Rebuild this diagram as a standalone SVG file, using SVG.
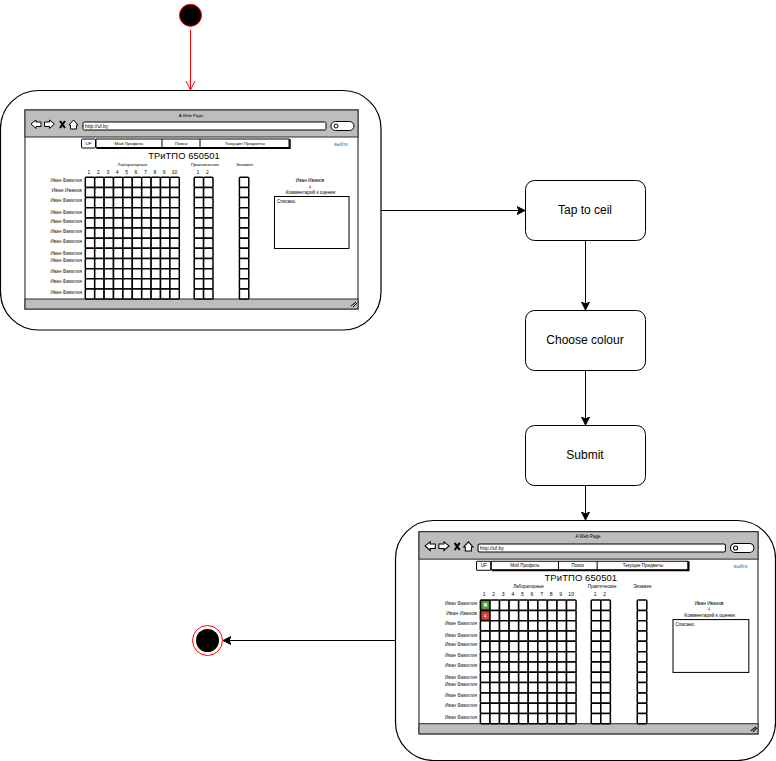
<svg xmlns="http://www.w3.org/2000/svg" width="776" height="761" viewBox="0 0 776 761">
<style>
text{font-family:"Liberation Sans",Arial,sans-serif;fill:#000}
.state{fill:#fff;stroke:#000;stroke-width:1}
.lbl{font-size:12px;text-anchor:middle}
.frame{fill:#fff;stroke:#000;stroke-width:1.2}
.win{fill:#fff;stroke:#3a3a3a;stroke-width:1.2}
.bar{fill:#bdbdbd;stroke:#2a2a2a;stroke-width:1}
.box{fill:#fff;stroke:#000;stroke-width:1}
.cell{fill:#fff;stroke:#000;stroke-width:1.5}
.ico{fill:#fff;stroke:#000;stroke-width:1}
.t4{font-size:4.4px;text-anchor:middle}
.t5{font-size:4.7px;text-anchor:middle}
.n{font-size:5px;text-anchor:middle}
.name{font-size:4.6px;text-anchor:end;fill:#222}
.title{font-size:9.3px;text-anchor:middle;letter-spacing:.1px}
.conn{fill:none;stroke:#000;stroke-width:1}
</style>
<defs>
<marker id="ah" markerUnits="userSpaceOnUse" markerWidth="10" markerHeight="10" refX="8" refY="4.5" orient="auto">
<path d="M0 0.5L8 4.5L0 8.5L2 4.5Z" fill="#000" stroke="#000" stroke-width="1"/>
</marker>
<marker id="ar" markerUnits="userSpaceOnUse" markerWidth="11" markerHeight="12" refX="10" refY="5" orient="auto">
<path d="M1 0.5L10 5L1 9.5" fill="none" stroke="#f00" stroke-width="1"/>
</marker>
<rect id="c" width="9.4" height="10.15" rx="1" class="cell"/>
<g id="r">
<use href="#c" x="85.3"/><use href="#c" x="94.7"/><use href="#c" x="104.1"/><use href="#c" x="113.5"/><use href="#c" x="122.9"/><use href="#c" x="132.3"/><use href="#c" x="141.7"/><use href="#c" x="151.1"/><use href="#c" x="160.5"/><use href="#c" x="169.9"/>
<use href="#c" x="194.2"/><use href="#c" x="203.6"/>
<use href="#c" x="239.4"/>
</g>
<g id="grid">
<use href="#r" y="177.3"/><use href="#r" y="187.45"/><use href="#r" y="197.6"/><use href="#r" y="207.75"/><use href="#r" y="217.9"/><use href="#r" y="228.05"/><use href="#r" y="238.2"/><use href="#r" y="248.35"/><use href="#r" y="258.5"/><use href="#r" y="268.65"/><use href="#r" y="278.8"/><use href="#r" y="288.95"/>
</g>
<g id="chrome">
<rect class="win" x="25" y="110" width="333" height="199"/>
<rect class="bar" x="25" y="110" width="333" height="27"/>
<rect class="bar" x="25" y="299" width="333" height="10"/>
<path class="ico" d="M31 124L36 120V122H41V126.5H36V128.5Z"/>
<path class="ico" d="M54.5 124L49.5 120V122H44.5V126.5H49.5V128.5Z"/>
<path d="M60 121L65 128M65 121L60 128" stroke="#000" stroke-width="2" fill="none"/>
<path class="ico" d="M69 125L73.5 120L78 125H76.5V129H70.5V125Z"/>
<rect class="box" x="83" y="122" width="243" height="8" rx="1.5"/>
<rect class="box" x="331" y="121.500" width="23" height="9" rx="4.5"/>
<circle cx="336" cy="126" r="2" fill="none" stroke="#000" stroke-width="1"/>
<rect class="box" x="81.5" y="139" width="14" height="9" rx="1"/>
<path d="M96 139H289V147.5H96Z" fill="#fff" stroke="#000" stroke-width="1"/>
<path d="M96.5 148.3H290V139" fill="none" stroke="#000" stroke-width="1.5"/>
<path d="M162 139V148M200 139V148" stroke="#000" stroke-width="1" fill="none"/>
<path d="M351 306L356 302M353 307L357 303" stroke="#000" stroke-width="1" fill="none"/>
<use href="#grid"/>
<rect class="box" x="274.5" y="196.5" width="74.5" height="52"/>
</g>
</defs>

<g id="connectors">
<path d="M190.5 30V90" fill="none" stroke="#f00" stroke-width="1" marker-end="url(#ar)"/>
<path class="conn" d="M381 210.5H525" marker-end="url(#ah)"/>
<path class="conn" d="M585.5 240V310" marker-end="url(#ah)"/>
<path class="conn" d="M585.5 370V425" marker-end="url(#ah)"/>
<path class="conn" d="M585.5 485V520" marker-end="url(#ah)"/>
<path class="conn" d="M395 640.5H223" marker-end="url(#ah)"/>
</g>

<g id="start"><circle cx="190.5" cy="15.3" r="11" fill="#000" stroke="#f00" stroke-width="1"/></g>

<g id="mock1">
<rect class="frame" x="0.5" y="90.5" width="380.5" height="239.5" rx="38"/>
<use href="#chrome"/>
<text class="t4" x="191" y="116.5">A Web Page</text>
<text x="85" y="127.7" style="font-size:5px">http://uf.by</text>
<text class="t4" x="88.5" y="145">UF</text>
<text class="t4" x="129" y="145">Мой Профиль</text>
<text class="t4" x="181" y="145">Поиск</text>
<text class="t4" x="245" y="145">Текущие Предметы</text>
<text x="341" y="145.5" style="font-size:4.8px;fill:#2b6fc0;text-anchor:middle">выйти</text>
<text class="title" x="184" y="158.5">ТРиТПО 650501</text>
<text class="t4" x="132.5" y="165.5">Лабораторные</text>
<text class="t4" x="205" y="165.5">Практические</text>
<text class="t4" x="244.5" y="165.5">Экзамен</text>
<text class="n" x="89" y="173.5">1</text><text class="n" x="98.4" y="173.5">2</text><text class="n" x="107.8" y="173.5">3</text><text class="n" x="117.2" y="173.5">4</text><text class="n" x="126.6" y="173.5">5</text><text class="n" x="136" y="173.5">6</text><text class="n" x="145.4" y="173.5">7</text><text class="n" x="154.8" y="173.5">8</text><text class="n" x="164.2" y="173.5">9</text><text class="n" x="174.5" y="173.5">10</text>
<text class="n" x="198" y="173.5">1</text><text class="n" x="207.5" y="173.5">2</text>
<text class="name" x="82" y="182">Иван Фамилия</text><text class="name" x="82" y="192" style="font-size:5px">Иван Иванов</text><text class="name" x="82" y="202">Иван Фамилия</text><text class="name" x="82" y="213.5">Иван Фамилия</text><text class="name" x="82" y="222.7">Иван Фамилия</text><text class="name" x="82" y="233">Иван Фамилия</text><text class="name" x="82" y="243.3">Иван Фамилия</text><text class="name" x="82" y="255">Иван Фамилия</text><text class="name" x="82" y="262.3">Иван Фамилия</text><text class="name" x="82" y="272.7">Иван Фамилия</text><text class="name" x="82" y="283">Иван Фамилия</text><text class="name" x="82" y="294">Иван Фамилия</text>
<text class="t5" x="310" y="182">Иван Иванов</text>
<text x="310" y="188.5" style="font-size:4.5px;fill:#e03020;text-anchor:middle">4</text>
<text class="t5" x="311" y="194">Комментарий к оценке:</text>
<text x="277" y="203" style="font-size:4.5px">Списано.</text>
</g>

<g id="tap"><rect class="state" x="525.5" y="180.5" width="120" height="60" rx="9"/><text class="lbl" x="585" y="214">Tap to ceil</text></g>
<g id="choose"><rect class="state" x="525.5" y="310.5" width="120" height="60" rx="9"/><text class="lbl" x="585" y="344">Choose colour</text></g>
<g id="submit"><rect class="state" x="525.5" y="425.5" width="120" height="60" rx="9"/><text class="lbl" x="585" y="459">Submit</text></g>

<g id="mock2">
<rect class="frame" x="395.5" y="520.5" width="380" height="240" rx="38"/>
<g transform="matrix(1.018 0 0 1.016 393.55 419.94)">
<use href="#chrome"/>
<rect x="85.8" y="177.8" width="8.4" height="9.1" fill="#4f9a3e" stroke="#000" stroke-width="0.8"/>
<rect x="88.5" y="180.3" width="3.5" height="3.5" fill="#cfe8c8"/>
<rect x="85.8" y="188" width="8.4" height="9.1" fill="#d93a35" stroke="#000" stroke-width="0.8"/>
<text x="90" y="194.5" style="font-size:5px;fill:#fff;text-anchor:middle">4</text>
<text class="t4" x="191" y="116.5">A Web Page</text>
<text x="85" y="127.7" style="font-size:5px">http://uf.by</text>
<text class="t4" x="88.5" y="145">UF</text>
<text class="t4" x="129" y="145">Мой Профиль</text>
<text class="t4" x="181" y="145">Поиск</text>
<text class="t4" x="245" y="145">Текущие Предметы</text>
<text x="341" y="145.5" style="font-size:4.8px;fill:#2b6fc0;text-anchor:middle">выйти</text>
<text class="title" x="184" y="158.5">ТРиТПО 650501</text>
<text class="t4" x="132.5" y="165.5">Лабораторные</text>
<text class="t4" x="205" y="165.5">Практические</text>
<text class="t4" x="244.5" y="165.5">Экзамен</text>
<text class="n" x="89" y="173.5">1</text><text class="n" x="98.4" y="173.5">2</text><text class="n" x="107.8" y="173.5">3</text><text class="n" x="117.2" y="173.5">4</text><text class="n" x="126.6" y="173.5">5</text><text class="n" x="136" y="173.5">6</text><text class="n" x="145.4" y="173.5">7</text><text class="n" x="154.8" y="173.5">8</text><text class="n" x="164.2" y="173.5">9</text><text class="n" x="174.5" y="173.5">10</text>
<text class="n" x="198" y="173.5">1</text><text class="n" x="207.5" y="173.5">2</text>
<text class="name" x="82" y="182">Иван Фамилия</text><text class="name" x="82" y="192" style="font-size:5px">Иван Иванов</text><text class="name" x="82" y="202">Иван Фамилия</text><text class="name" x="82" y="213.5">Иван Фамилия</text><text class="name" x="82" y="222.7">Иван Фамилия</text><text class="name" x="82" y="233">Иван Фамилия</text><text class="name" x="82" y="243.3">Иван Фамилия</text><text class="name" x="82" y="255">Иван Фамилия</text><text class="name" x="82" y="262.3">Иван Фамилия</text><text class="name" x="82" y="272.7">Иван Фамилия</text><text class="name" x="82" y="283">Иван Фамилия</text><text class="name" x="82" y="294">Иван Фамилия</text>
<text class="t5" x="310" y="182">Иван Иванов</text>
<text x="310" y="188.5" style="font-size:4.5px;fill:#e03020;text-anchor:middle">4</text>
<text class="t5" x="311" y="194">Комментарий к оценке:</text>
<text x="277" y="203" style="font-size:4.5px">Списано.</text>
</g>
</g>

<g id="end">
<circle cx="207.5" cy="640.5" r="15" fill="#fff" stroke="#f00" stroke-width="1"/>
<circle cx="207.5" cy="640.5" r="11.5" fill="#000"/>
</g>
</svg>
